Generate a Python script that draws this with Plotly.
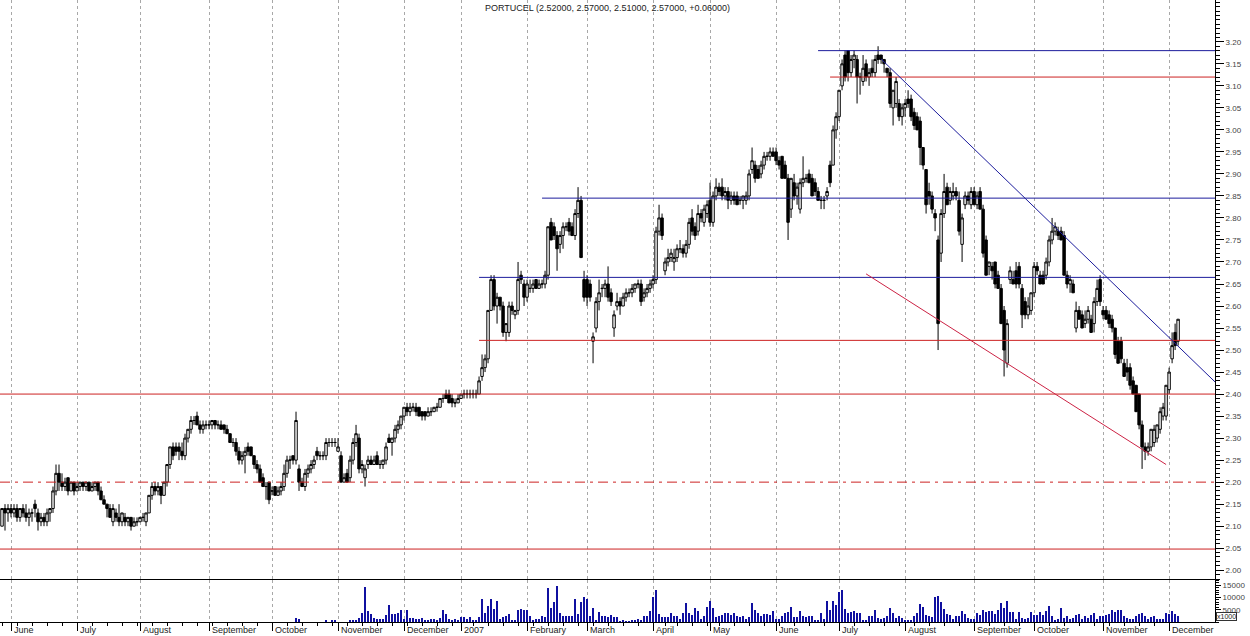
import pandas as pd
import plotly.graph_objects as go

# ---------------------------------------------------------------- data
TICKER = "PORTUCEL"
FIRST_SESSION = "2006-05-29"
LAST_SESSION = "2007-12-06"
HOLIDAYS = ["2006-12-25", "2006-12-26", "2007-01-01", "2007-04-06", "2007-04-09", "2007-05-01"]

# (open, high, low, close) per session, one list per month
OHLC_2006_05 = [(2.10,2.14,2.10,2.14),(2.14,2.15,2.09,2.13),(2.13,2.15,2.11,2.14)]
OHLC_2006_06 = [(2.14,2.15,2.12,2.13),(2.13,2.15,2.12,2.14),(2.14,2.15,2.11,2.12),(2.12,2.14,2.11,2.14),(2.14,2.15,2.12,2.13),
                (2.13,2.15,2.11,2.12),(2.12,2.14,2.10,2.13),(2.13,2.14,2.11,2.13),(2.15,2.16,2.12,2.14),(2.13,2.14,2.09,2.11),
                (2.11,2.13,2.10,2.12),(2.12,2.13,2.10,2.11),(2.11,2.14,2.10,2.13),(2.13,2.14,2.11,2.14),(2.14,2.19,2.13,2.18),
                (2.18,2.24,2.17,2.22),(2.22,2.24,2.18,2.20),(2.20,2.22,2.18,2.19),(2.19,2.21,2.18,2.20),(2.21,2.21,2.17,2.18),
                (2.18,2.20,2.18,2.20),(2.20,2.20,2.17,2.18)]
OHLC_2006_07 = [(2.18,2.20,2.18,2.19),(2.19,2.20,2.18,2.20),(2.20,2.20,2.18,2.19),(2.19,2.20,2.18,2.20),(2.20,2.20,2.18,2.18),
                (2.18,2.20,2.18,2.19),(2.19,2.20,2.18,2.20),(2.20,2.20,2.17,2.18),(2.18,2.19,2.16,2.16),(2.16,2.17,2.15,2.15),
                (2.15,2.15,2.12,2.14),(2.14,2.15,2.12,2.12),(2.11,2.15,2.10,2.14),(2.13,2.14,2.11,2.12),(2.12,2.15,2.10,2.11),
                (2.11,2.13,2.10,2.13),(2.12,2.13,2.10,2.11),(2.11,2.12,2.10,2.12),(2.12,2.12,2.09,2.10),(2.10,2.12,2.10,2.11),
                (2.11,2.12,2.10,2.11)]
OHLC_2006_08 = [(2.11,2.12,2.11,2.12),(2.12,2.13,2.11,2.12),(2.11,2.13,2.10,2.13),(2.13,2.17,2.13,2.17),(2.17,2.20,2.16,2.19),
                (2.19,2.20,2.17,2.18),(2.18,2.20,2.17,2.19),(2.19,2.19,2.15,2.17),(2.17,2.20,2.17,2.20),(2.20,2.24,2.19,2.24),
                (2.24,2.28,2.23,2.28),(2.28,2.29,2.25,2.26),(2.28,2.29,2.26,2.27),(2.28,2.29,2.25,2.27),(2.27,2.29,2.25,2.26),
                (2.26,2.31,2.25,2.30),(2.30,2.32,2.29,2.32),(2.32,2.35,2.31,2.34),(2.34,2.35,2.33,2.34),(2.35,2.36,2.33,2.33),
                (2.33,2.34,2.31,2.32),(2.32,2.34,2.31,2.33),(2.33,2.34,2.32,2.33)]
OHLC_2006_09 = [(2.33,2.34,2.32,2.33),(2.33,2.34,2.32,2.34),(2.34,2.34,2.32,2.33),(2.33,2.34,2.32,2.33),(2.33,2.34,2.32,2.32),
                (2.33,2.33,2.31,2.32),(2.32,2.33,2.31,2.31),(2.31,2.31,2.29,2.29),(2.29,2.30,2.28,2.29),(2.29,2.30,2.26,2.27),
                (2.27,2.28,2.24,2.25),(2.25,2.27,2.24,2.26),(2.26,2.28,2.22,2.27),(2.28,2.29,2.26,2.27),(2.28,2.28,2.26,2.26),
                (2.26,2.26,2.23,2.24),(2.24,2.25,2.22,2.23),(2.23,2.24,2.20,2.20),(2.21,2.22,2.19,2.19),(2.19,2.20,2.16,2.19),
                (2.20,2.20,2.15,2.16)]
OHLC_2006_10 = [(2.18,2.19,2.17,2.18),(2.19,2.19,2.17,2.17),(2.17,2.19,2.17,2.18),(2.18,2.20,2.17,2.19),(2.19,2.24,2.18,2.22),
                (2.22,2.26,2.21,2.25),(2.25,2.26,2.23,2.25),(2.26,2.26,2.24,2.25),(2.25,2.36,2.24,2.34),(2.23,2.24,2.18,2.20),
                (2.20,2.21,2.19,2.19),(2.19,2.23,2.18,2.22),(2.22,2.24,2.21,2.23),(2.23,2.25,2.22,2.24),(2.24,2.26,2.23,2.25),
                (2.27,2.28,2.25,2.26),(2.26,2.27,2.25,2.26),(2.26,2.27,2.25,2.26),(2.26,2.30,2.25,2.29),(2.29,2.30,2.28,2.29),
                (2.29,2.30,2.28,2.29),(2.29,2.30,2.28,2.29)]
OHLC_2006_11 = [(2.27,2.30,2.27,2.28),(2.26,2.27,2.20,2.20),(2.20,2.22,2.20,2.21),(2.22,2.23,2.20,2.20),(2.21,2.26,2.20,2.25),
                (2.25,2.30,2.24,2.29),(2.29,2.33,2.28,2.31),(2.30,2.31,2.22,2.23),(2.23,2.25,2.22,2.24),(2.21,2.24,2.19,2.23),
                (2.24,2.26,2.23,2.25),(2.25,2.26,2.24,2.24),(2.24,2.26,2.24,2.25),(2.26,2.27,2.24,2.24),(2.24,2.25,2.23,2.24),
                (2.24,2.25,2.23,2.25),(2.25,2.29,2.24,2.28),(2.30,2.31,2.29,2.29),(2.29,2.30,2.26,2.30),(2.30,2.33,2.29,2.32),
                (2.32,2.34,2.31,2.33),(2.33,2.35,2.32,2.35)]
OHLC_2006_12 = [(2.35,2.37,2.34,2.37),(2.37,2.38,2.35,2.36),(2.36,2.38,2.35,2.37),(2.37,2.38,2.36,2.37),(2.37,2.38,2.35,2.36),
                (2.37,2.37,2.35,2.35),(2.36,2.36,2.34,2.35),(2.36,2.36,2.34,2.35),(2.35,2.37,2.35,2.36),(2.36,2.37,2.35,2.36),
                (2.36,2.37,2.36,2.37),(2.37,2.38,2.36,2.37),(2.37,2.39,2.37,2.39),(2.39,2.40,2.38,2.39),(2.40,2.41,2.39,2.39),
                (2.40,2.41,2.38,2.38),(2.39,2.40,2.37,2.38),(2.38,2.39,2.37,2.38),(2.38,2.40,2.38,2.39)]
OHLC_2007_01 = [(2.39,2.40,2.39,2.40),(2.40,2.41,2.39,2.40),(2.40,2.41,2.39,2.40),(2.40,2.41,2.39,2.40),(2.40,2.41,2.39,2.40),
                (2.40,2.41,2.39,2.40),(2.40,2.44,2.40,2.43),(2.44,2.49,2.43,2.46),(2.46,2.49,2.45,2.48),(2.48,2.59,2.47,2.59),
                (2.59,2.67,2.59,2.66),(2.66,2.67,2.59,2.60),(2.60,2.63,2.56,2.62),(2.62,2.62,2.59,2.60),(2.60,2.61,2.53,2.54),
                (2.54,2.56,2.52,2.56),(2.54,2.61,2.53,2.60),(2.60,2.61,2.58,2.59),(2.58,2.59,2.57,2.59),(2.59,2.70,2.58,2.66),
                (2.67,2.68,2.65,2.66),(2.65,2.66,2.60,2.62)]
OHLC_2007_02 = [(2.62,2.66,2.61,2.65),(2.64,2.66,2.63,2.64),(2.64,2.66,2.63,2.65),(2.66,2.66,2.64,2.64),(2.64,2.66,2.64,2.65),
                (2.65,2.66,2.64,2.65),(2.65,2.68,2.64,2.67),(2.67,2.78,2.66,2.78),(2.79,2.80,2.75,2.75),(2.78,2.79,2.75,2.76),
                (2.76,2.77,2.68,2.73),(2.74,2.77,2.72,2.76),(2.76,2.79,2.73,2.78),(2.78,2.79,2.77,2.78),(2.79,2.80,2.76,2.77),
                (2.78,2.79,2.76,2.76),(2.76,2.82,2.75,2.81),(2.81,2.87,2.80,2.84),(2.84,2.85,2.71,2.71),(2.66,2.68,2.61,2.62)]
OHLC_2007_03 = [(2.66,2.67,2.60,2.62),(2.65,2.66,2.61,2.62),(2.52,2.54,2.47,2.53),(2.55,2.62,2.54,2.61),(2.61,2.66,2.59,2.63),
                (2.64,2.65,2.62,2.64),(2.64,2.66,2.62,2.65),(2.65,2.69,2.61,2.62),(2.63,2.64,2.60,2.61),(2.55,2.59,2.53,2.58),
                (2.60,2.63,2.59,2.61),(2.61,2.62,2.58,2.60),(2.60,2.63,2.60,2.62),(2.62,2.64,2.61,2.63),(2.63,2.64,2.62,2.63),
                (2.63,2.65,2.62,2.64),(2.64,2.65,2.63,2.65),(2.65,2.66,2.64,2.65),(2.65,2.66,2.60,2.61),(2.62,2.64,2.61,2.63),
                (2.63,2.65,2.62,2.64),(2.64,2.66,2.63,2.65)]
OHLC_2007_04 = [(2.65,2.67,2.64,2.66),(2.66,2.78,2.65,2.77),(2.77,2.83,2.76,2.80),(2.80,2.81,2.75,2.76),(2.68,2.71,2.67,2.70),
                (2.70,2.73,2.69,2.71),(2.71,2.73,2.70,2.72),(2.70,2.73,2.68,2.71),(2.71,2.74,2.70,2.73),(2.73,2.75,2.72,2.73),
                (2.73,2.74,2.71,2.72),(2.72,2.75,2.71,2.74),(2.74,2.80,2.73,2.79),(2.80,2.82,2.76,2.77),(2.78,2.79,2.75,2.76),
                (2.77,2.83,2.76,2.81),(2.81,2.82,2.79,2.80),(2.79,2.83,2.78,2.82),(2.81,2.84,2.80,2.83)]
OHLC_2007_05 = [(2.84,2.88,2.78,2.79),(2.79,2.86,2.78,2.85),(2.85,2.89,2.84,2.87),(2.87,2.88,2.85,2.86),(2.87,2.89,2.84,2.85),
                (2.85,2.87,2.84,2.86),(2.86,2.87,2.82,2.84),(2.84,2.86,2.83,2.85),(2.85,2.86,2.83,2.84),(2.85,2.86,2.83,2.83),
                (2.84,2.85,2.83,2.84),(2.84,2.85,2.82,2.85),(2.84,2.86,2.83,2.85),(2.85,2.91,2.84,2.90),(2.91,2.96,2.90,2.93),
                (2.92,2.93,2.88,2.89),(2.91,2.92,2.89,2.89),(2.90,2.93,2.89,2.92),(2.92,2.95,2.91,2.94),(2.94,2.95,2.93,2.94),
                (2.94,2.96,2.93,2.95),(2.95,2.96,2.94,2.94)]
OHLC_2007_06 = [(2.95,2.96,2.92,2.93),(2.93,2.94,2.91,2.92),(2.94,2.94,2.89,2.89),(2.92,2.93,2.89,2.89),(2.89,2.90,2.75,2.79),
                (2.82,2.89,2.80,2.89),(2.88,2.90,2.84,2.85),(2.85,2.88,2.83,2.87),(2.82,2.89,2.81,2.88),(2.88,2.94,2.87,2.89),
                (2.89,2.90,2.88,2.89),(2.90,2.91,2.88,2.88),(2.89,2.90,2.85,2.85),(2.88,2.89,2.85,2.86),(2.86,2.87,2.84,2.84),
                (2.84,2.85,2.82,2.84),(2.84,2.85,2.82,2.84),(2.85,2.87,2.84,2.86),(2.92,2.93,2.87,2.88),(2.92,3.01,2.92,3.00),
                (3.00,3.04,2.98,3.03)]
OHLC_2007_07 = [(3.03,3.09,3.02,3.09),(3.10,3.16,3.09,3.15),(3.17,3.18,3.11,3.12),(3.18,3.18,3.11,3.13),(3.13,3.17,3.12,3.16),
                (3.16,3.18,3.14,3.17),(3.16,3.17,3.06,3.12),(3.12,3.13,3.08,3.12),(3.11,3.17,3.10,3.14),(3.15,3.16,3.11,3.12),
                (3.12,3.14,3.10,3.13),(3.14,3.16,3.12,3.13),(3.13,3.17,3.12,3.16),(3.17,3.19,3.15,3.16),(3.17,3.17,3.15,3.16),
                (3.16,3.16,3.13,3.15),(3.14,3.14,3.12,3.13),(3.13,3.14,3.05,3.06),(3.05,3.09,3.01,3.09),(3.06,3.12,3.05,3.11),
                (3.06,3.07,3.02,3.03),(3.03,3.06,3.01,3.05)]
OHLC_2007_08 = [(3.05,3.07,3.03,3.06),(3.07,3.09,3.05,3.06),(3.07,3.08,3.02,3.03),(3.04,3.05,3.00,3.01),(3.03,3.04,3.00,3.00),
                (3.02,3.03,2.92,2.96),(2.96,2.96,2.91,2.92),(2.91,2.91,2.81,2.83),(2.86,2.88,2.83,2.85),(2.85,2.86,2.81,2.82),
                (2.81,2.82,2.77,2.80),(2.75,2.76,2.50,2.56),(2.72,2.82,2.70,2.81),(2.81,2.90,2.80,2.86),(2.87,2.88,2.83,2.83),
                (2.84,2.87,2.83,2.86),(2.85,2.88,2.84,2.86),(2.86,2.87,2.84,2.85),(2.84,2.86,2.76,2.77),(2.74,2.81,2.70,2.80),
                (2.83,2.86,2.82,2.85),(2.85,2.86,2.83,2.84),(2.83,2.87,2.82,2.86)]
OHLC_2007_09 = [(2.86,2.87,2.83,2.83),(2.83,2.86,2.82,2.85),(2.86,2.87,2.82,2.82),(2.82,2.83,2.71,2.72),(2.75,2.76,2.67,2.67),
                (2.69,2.70,2.67,2.70),(2.69,2.70,2.66,2.68),(2.70,2.70,2.64,2.65),(2.67,2.68,2.64,2.64),(2.64,2.65,2.56,2.56),
                (2.59,2.60,2.44,2.50),(2.47,2.57,2.46,2.56),(2.66,2.69,2.65,2.68),(2.66,2.68,2.65,2.65),(2.68,2.70,2.64,2.65),
                (2.69,2.70,2.64,2.65),(2.64,2.65,2.55,2.58),(2.61,2.62,2.57,2.58),(2.58,2.62,2.57,2.60),(2.59,2.63,2.58,2.63)]
OHLC_2007_10 = [(2.63,2.70,2.62,2.69),(2.69,2.70,2.67,2.68),(2.67,2.68,2.65,2.65),(2.67,2.68,2.65,2.65),(2.67,2.71,2.66,2.70),
                (2.70,2.76,2.69,2.75),(2.75,2.80,2.74,2.77),(2.77,2.79,2.76,2.78),(2.77,2.78,2.75,2.76),(2.77,2.78,2.75,2.75),
                (2.76,2.77,2.67,2.67),(2.67,2.68,2.64,2.65),(2.65,2.67,2.63,2.66),(2.65,2.66,2.63,2.63),(2.55,2.61,2.54,2.59),
                (2.59,2.60,2.57,2.57),(2.58,2.59,2.55,2.55),(2.56,2.59,2.55,2.57),(2.57,2.60,2.56,2.59),(2.57,2.58,2.54,2.54),
                (2.56,2.62,2.54,2.61),(2.61,2.66,2.60,2.64),(2.66,2.67,2.60,2.61)]
OHLC_2007_11 = [(2.59,2.60,2.57,2.58),(2.59,2.60,2.57,2.57),(2.58,2.59,2.55,2.56),(2.57,2.58,2.54,2.55),(2.55,2.55,2.48,2.49),
                (2.52,2.53,2.47,2.47),(2.52,2.53,2.47,2.48),(2.47,2.48,2.44,2.44),(2.46,2.48,2.43,2.45),(2.46,2.47,2.41,2.42),
                (2.43,2.44,2.40,2.40),(2.42,2.42,2.36,2.36),(2.40,2.40,2.32,2.33),(2.33,2.34,2.23,2.28),(2.28,2.29,2.25,2.27),
                (2.27,2.29,2.26,2.28),(2.28,2.32,2.27,2.32),(2.29,2.33,2.28,2.32),(2.30,2.33,2.29,2.33),(2.32,2.37,2.31,2.36),
                (2.35,2.38,2.34,2.37),(2.35,2.42,2.34,2.42)]
OHLC_2007_12 = [(2.41,2.46,2.40,2.45),(2.48,2.54,2.47,2.51),(2.54,2.56,2.50,2.51),(2.52,2.57,2.51,2.57)]

# volume per session, millions of shares (axis shows thousands, "x1000"); none recorded before October 2006
VOL_2006_10 = [0,0,0,0,0,0,0,0,1.5,1.0,0,0,0,0,0,0,0,0,0.5,0,0.5,0.5]
VOL_2006_11 = [0,0,0,0,0.9,0.9,0.9,1.5,3.7,14.1,4.5,3.2,1.5,1.2,1.2,1.2,2.8,6.7,3.3,3.3,3.7,4.7]
VOL_2006_12 = [1.0,4.7,1.5,1.5,1.2,1.0,1.5,0.8,0.8,1.2,1.2,0.8,1.5,4.7,3.2,1.1,0.5,1.1,0.6]
VOL_2007_01 = [1.9,1.9,1.1,1.9,0.5,0.5,1.9,9.4,3.7,6.4,9.4,5.1,8.6,1.1,1.8,2.2,3.2,0.6,0.6,4.9,5.0,4.9]
VOL_2007_02 = [4.7,2.4,0.5,1.2,1.2,2.2,1.8,13.6,5.5,8.2,14.7,3.7,2.4,2.4,2.4,2.4,9.4,3.3,8.2,9.9]
VOL_2007_03 = [9.4,2.2,5.5,0.6,4.0,2.4,2.2,1.8,2.8,1.8,1.8,0.3,0.6,0.2,0.3,0.6,0.9,1.1,0.6,2.2,2.4,4.5]
VOL_2007_04 = [9.9,12.8,3.2,2.0,1.8,1.8,3.7,2.2,2.2,1.3,3.7,7.8,3.7,2.8,5.6,4.5,1.1,2.2,6.0]
VOL_2007_05 = [8.6,5.6,1.8,2.4,2.8,3.5,3.5,2.8,3.5,2.4,1.8,2.4,1.1,1.8,7.6,4.7,3.7,2.4,3.1,3.2,2.6,4.5]
VOL_2007_06 = [1.1,1.3,2.2,3.5,3.8,6.0,1.8,1.8,4.5,2.2,1.8,2.2,2.4,0.6,0.6,3.5,1.0,8.6,4.7,8.6,6.9]
VOL_2007_07 = [12.1,13.1,5.0,3.5,4.1,4.5,3.7,3.7,0.9,0.5,2.4,2.2,4.7,1.5,1.1,1.5,2.4,5.4,3.7,1.5,2.4,1.5]
VOL_2007_08 = [0.6,0.6,0.9,2.4,3.7,7.3,6.0,2.8,2.2,1.8,10.1,10.5,7.9,5.0,3.2,2.8,1.1,2.2,2.4,4.5,3.1,1.5,1.1]
VOL_2007_09 = [1.1,3.5,2.8,4.7,4.1,4.4,4.4,3.2,4.7,7.7,5.8,8.5,4.0,4.1,1.1,4.0,1.5,1.1,1.5,3.8]
VOL_2007_10 = [2.8,2.6,3.8,2.8,4.5,6.3,2.2,0.9,1.1,5.4,1.5,2.4,1.1,1.5,2.8,3.2,1.1,2.4,1.5,2.8,3.7,1.1,2.4]
VOL_2007_11 = [2.2,2.8,3.2,4.7,4.1,4.7,4.7,2.4,1.5,1.1,1.1,2.2,3.1,3.7,2.4,1.3,1.8,2.2,1.1,1.1,1.1,3.5]
VOL_2007_12 = [3.1,4.5,3.2,2.2]

MONTH_KEYS = ["2006-05", "2006-06", "2006-07", "2006-08", "2006-09", "2006-10", "2006-11", "2006-12",
              "2007-01", "2007-02", "2007-03", "2007-04", "2007-05", "2007-06", "2007-07", "2007-08",
              "2007-09", "2007-10", "2007-11", "2007-12"]
MONTH_OHLC = [OHLC_2006_05, OHLC_2006_06, OHLC_2006_07, OHLC_2006_08, OHLC_2006_09, OHLC_2006_10, OHLC_2006_11,
              OHLC_2006_12, OHLC_2007_01, OHLC_2007_02, OHLC_2007_03, OHLC_2007_04, OHLC_2007_05, OHLC_2007_06,
              OHLC_2007_07, OHLC_2007_08, OHLC_2007_09, OHLC_2007_10, OHLC_2007_11, OHLC_2007_12]
MONTH_VOL = [None, None, None, None, None, VOL_2006_10, VOL_2006_11, VOL_2006_12, VOL_2007_01, VOL_2007_02,
             VOL_2007_03, VOL_2007_04, VOL_2007_05, VOL_2007_06, VOL_2007_07, VOL_2007_08, VOL_2007_09,
             VOL_2007_10, VOL_2007_11, VOL_2007_12]
# month labels shown on the time axis (June 2006 ... December 2007)
MONTH_LABELS = ["June", "July", "August", "September", "October", "November", "December", "2007",
                "February", "March", "April", "May", "June", "July", "August", "September", "October",
                "November", "December"]
# labelled price ticks and volume ticks
PRICE_TICKS = [2.00, 2.05, 2.10, 2.15, 2.20, 2.25, 2.30, 2.35, 2.40, 2.45, 2.50, 2.55, 2.60,
               2.65, 2.70, 2.75, 2.80, 2.85, 2.90, 2.95, 3.00, 3.05, 3.10, 3.15, 3.20]
VOLUME_TICKS = [5000, 10000, 15000]

# drawn support / resistance levels
LEVEL_PRICES = [3.18, 3.12, 2.845, 2.665, 2.522, 2.40, 2.20, 2.048]
LEVEL_FROM = ["2007-06-21", "2007-06-27", "2007-02-08", "2007-01-10", "2007-01-10", None, None, None]
LEVEL_COLORS = ["#1c1c9c", "#cc2222", "#1c1c9c", "#1c1c9c", "#cc2222", "#cc2222", "#cc2222", "#cc2222"]
LEVEL_DASHES = ["solid", "solid", "solid", "solid", "solid", "solid", "10px,5px,3px,5px", "solid"]
# trend lines: two anchor points (date, price); the blue one runs on to the right edge
TREND_BLUE = [("2007-07-20", 3.161), ("2007-10-31", 2.680)]
TREND_RED = [("2007-07-13", 2.673), ("2007-11-30", 2.240)]

PRICE_RANGE = [1.98, 3.295]
VOLUME_RANGE = [0, 17000]
PAD_LEFT_SESSIONS = 0.67
PAD_RIGHT_SESSIONS = 12.3

# ---------------------------------------------------------------- build
sessions = pd.bdate_range(FIRST_SESSION, LAST_SESSION)
sessions = sessions[~sessions.isin(pd.to_datetime(HOLIDAYS))]
month_of = list(sessions.strftime("%Y-%m"))

opens, highs, lows, closes = [], [], [], []
vol_x, vol_y = [], []
for key, ohlc, vol in zip(MONTH_KEYS, MONTH_OHLC, MONTH_VOL):
    idx = [i for i, m in enumerate(month_of) if m == key]
    if len(idx) != len(ohlc):
        raise ValueError(f"{key}: {len(idx)} sessions vs {len(ohlc)} candles")
    for o, h, l, c in ohlc:
        opens.append(o); highs.append(h); lows.append(l); closes.append(c)
    if vol is not None:
        if len(vol) != len(idx):
            raise ValueError(f"{key}: {len(idx)} sessions vs {len(vol)} volumes")
        vol_x.extend(idx)
        vol_y.extend(v * 1000 for v in vol)

n = len(sessions)
xs = list(range(n))
x_range = [-PAD_LEFT_SESSIONS, n - 1 + PAD_RIGHT_SESSIONS]

month_starts = [month_of.index(k) for k in MONTH_KEYS[1:]]
week_id = list(sessions.isocalendar().week.values)
week_starts = [i for i in range(n) if i == 0 or week_id[i] != week_id[i - 1]]


def pos(d):
    return sessions.get_loc(pd.Timestamp(d))


FONT = "Arial, 'Liberation Sans', sans-serif"
fig = go.Figure()
fig.add_trace(go.Candlestick(
    x=xs, open=opens, high=highs, low=lows, close=closes, xaxis="x2", yaxis="y2",
    increasing=dict(line=dict(color="black", width=1), fillcolor="white"),
    decreasing=dict(line=dict(color="black", width=1), fillcolor="black"),
    whiskerwidth=0, showlegend=False, hoverinfo="skip"))
fig.add_trace(go.Bar(x=vol_x, y=vol_y, xaxis="x", yaxis="y", width=0.4,
                     marker=dict(color="#1010a0", line=dict(width=0)),
                     showlegend=False, hoverinfo="skip"))

shapes = []
for price, start, color, dash in zip(LEVEL_PRICES, LEVEL_FROM, LEVEL_COLORS, LEVEL_DASHES):
    x0 = x_range[0] if start is None else pos(start)
    shapes.append(dict(type="line", xref="x2", yref="y2", x0=x0, x1=x_range[1], y0=price, y1=price,
                       line=dict(color=color, width=1, dash=dash)))
(bd0, bp0), (bd1, bp1) = TREND_BLUE
bx0, bx1 = pos(bd0), pos(bd1)
slope = (bp1 - bp0) / (bx1 - bx0)
shapes.append(dict(type="line", xref="x2", yref="y2", x0=bx0, y0=bp0, x1=x_range[1],
                   y1=bp0 + slope * (x_range[1] - bx0), line=dict(color="#1c1c9c", width=1)))
(rd0, rp0), (rd1, rp1) = TREND_RED
shapes.append(dict(type="line", xref="x2", yref="y2", x0=pos(rd0), y0=rp0, x1=pos(rd1), y1=rp1,
                   line=dict(color="#cc2244", width=1)))

annotations = []
for i, label in zip(month_starts, MONTH_LABELS):
    annotations.append(dict(x=i, y=0, xref="x", yref="paper", text=label, showarrow=False,
                            xanchor="left", yanchor="top", xshift=1, yshift=-1,
                            font=dict(family=FONT, size=9, color="#222")))
o, h, l, c = opens[-1], highs[-1], lows[-1], closes[-1]
title = f"{TICKER} ({o:.5f}, {h:.5f}, {l:.5f}, {c:.5f}, {c - closes[-2]:+.5f})"
annotations.append(dict(x=0.5, y=1, xref="paper", yref="paper", text=title, showarrow=False,
                        xanchor="center", yanchor="top", yshift=-1,
                        font=dict(family=FONT, size=9, color="#222")))
annotations.append(dict(x=1, y=2300, xref="paper", yref="y", text="x1000", showarrow=False,
                        xanchor="left", yanchor="middle", xshift=1,
                        bordercolor="#333", borderwidth=1, borderpad=0, bgcolor="white",
                        font=dict(family=FONT, size=7, color="#222")))

grid = dict(showgrid=True, gridcolor="#a8a8a8", griddash="3px,3px", gridwidth=1,
            tickmode="array", tickvals=month_starts, zeroline=False)
price_bottom = 43 / 622

fig.update_layout(
    width=1250, height=636, margin=dict(l=0, r=35, t=0, b=14, autoexpand=False),
    paper_bgcolor="white", plot_bgcolor="white", showlegend=False, bargap=0,
    boxgap=0.1, boxgroupgap=0.1,
    font=dict(family=FONT, size=8, color="#333"),
    shapes=shapes, annotations=annotations,
    xaxis=dict(domain=[0, 1], anchor="y", range=x_range, showticklabels=False,
               ticks="outside", ticklen=8, tickcolor="black", tickwidth=1,
               minor=dict(tickmode="array", tickvals=week_starts, ticks="outside", ticklen=3,
                          tickcolor="black", showgrid=False),
               showline=True, linecolor="black", linewidth=1,
               rangeslider=dict(visible=False), **grid),
    xaxis2=dict(domain=[0, 1], anchor="y2", matches="x", range=x_range, showticklabels=False,
                ticks="", showline=True, linecolor="black", linewidth=1,
                rangeslider=dict(visible=False), **grid),
    yaxis=dict(domain=[0, price_bottom - 0.002], anchor="x", side="right", range=VOLUME_RANGE,
               tickmode="array", tickvals=VOLUME_TICKS, tickformat="d",
               ticks="outside", ticklen=5, tickcolor="black",
               minor=dict(tickmode="linear", tick0=0, dtick=1000, ticks="outside", ticklen=3,
                          tickcolor="black"),
               showline=True, linecolor="black", linewidth=1, showgrid=False, zeroline=False,
               tickfont=dict(size=8, color="#444")),
    yaxis2=dict(domain=[price_bottom, 1], anchor="x2", side="right", range=PRICE_RANGE,
                tickmode="array", tickvals=PRICE_TICKS, tickformat=".2f",
                ticks="outside", ticklen=8, tickcolor="black",
                minor=dict(tickmode="linear", tick0=2.0, dtick=0.01, ticks="outside", ticklen=4,
                           tickcolor="black"),
                showline=True, linecolor="black", linewidth=1, showgrid=False, zeroline=False,
                tickfont=dict(size=8, color="#444")),
)

fig.write_html("out.html", config={"displayModeBar": False},
               post_script="document.body.style.margin='0';document.body.style.overflow='hidden';")
